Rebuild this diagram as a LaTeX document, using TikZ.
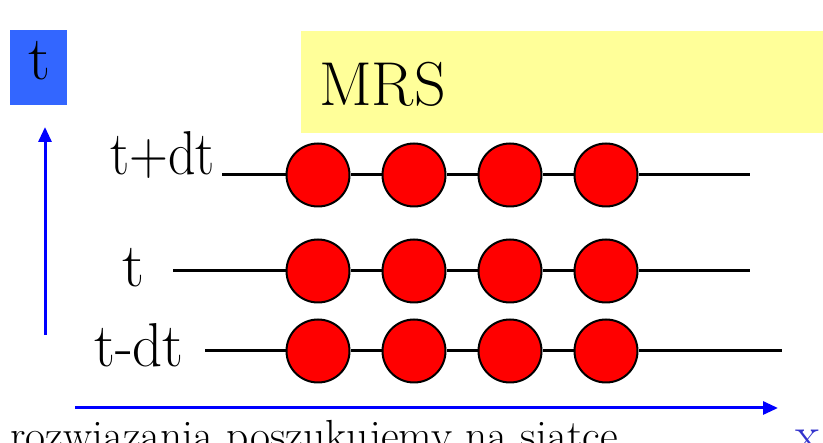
\documentclass[tikz,border=0pt]{standalone}
\usetikzlibrary{arrows.meta}
\definecolor{tblue}{HTML}{3366FF}
\definecolor{mrsyellow}{HTML}{FFFF99}
\definecolor{xblue}{HTML}{3333CC}
\begin{document}
\begin{tikzpicture}[x=1pt,y=-1pt,
  dot/.style={circle,draw=black,line width=2pt,fill=red,minimum size=63pt,inner sep=0pt},
  gridline/.style={draw=black,line width=3pt},
  axis/.style={draw=blue,line width=3pt,-{Triangle[length=15pt,width=13pt]}},
  lab/.style={font=\fontsize{62}{62}\selectfont,inner sep=0pt,anchor=base west},
  narrowa/.style={xscale=0.87,transform shape},
  narrowb/.style={xscale=0.95,transform shape}]
\useasboundingbox (0,0) rectangle (823,443);
% boxes
\fill[tblue] (10,30) rectangle (67,105);
\node[lab] (tbox) at (28,80) {t};
\fill[mrsyellow] (301,31) rectangle (823,133);
\node[lab] (mrs) at (319,106) {MRS};
% labels
\node[lab,narrowa] (l1) at (110,175) {t+dt};
\node[lab] (l2) at (122,287) {t};
\node[lab,narrowb] (l3) at (94,367) {t-dt};
% line ends
\coordinate (s1) at (222,175); \coordinate (e1) at (750,175);
\coordinate (s2) at (173,271); \coordinate (e2) at (750,271);
\coordinate (s3) at (205,351); \coordinate (e3) at (782,351);
% circles
\foreach \r/\y in {1/175,2/271,3/351}{
  \node[dot] (c\r1) at (318,\y) {};
  \node[dot] (c\r2) at (414,\y) {};
  \node[dot] (c\r3) at (510,\y) {};
  \node[dot] (c\r4) at (606,\y) {};
  \draw[gridline] (s\r) -- (c\r1);
  \draw[gridline] (c\r1) -- (c\r2);
  \draw[gridline] (c\r2) -- (c\r3);
  \draw[gridline] (c\r3) -- (c\r4);
  \draw[gridline] (c\r4) -- (e\r);
}
% axes
\coordinate (ta0) at (45,335); \coordinate (ta1) at (45,127);
\draw[axis] (ta0) -- (ta1);
\coordinate (xa0) at (75,408); \coordinate (xa1) at (778,408);
\draw[axis] (xa0) -- (xa1);
\node[font=\fontsize{50}{50}\selectfont,text=xblue,anchor=base west,inner sep=0pt] (xl) at (795,452) {x};
% bottom text
\node[font=\fontsize{43.5}{43.5}\selectfont,anchor=base west,inner sep=0pt] (bt) at (10,451) {rozwiazania poszukujemy na siatce};
\end{tikzpicture}
\end{document}
